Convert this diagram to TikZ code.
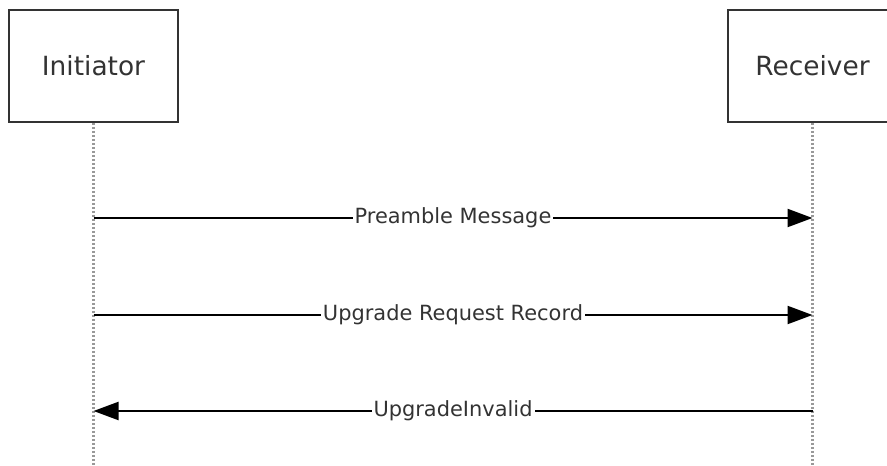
\documentclass[tikz,border=0pt]{standalone}
\usepackage{fontspec}
\setmainfont{DejaVu Sans}
\usetikzlibrary{arrows.meta}
\definecolor{inkgray}{HTML}{333333}
\begin{document}
\begin{tikzpicture}[
        x=1bp, y=-1bp,
        actor/.style={draw=inkgray, line width=1.8bp, minimum width=169bp, minimum height=112bp, inner sep=0pt, text=inkgray, font=\fontsize{26.5}{30}\selectfont},
        lifeline/.style={draw=gray!80, line width=2.6bp, dash pattern=on 2.5bp off 1.5bp},
        msg/.style={draw=black, line width=2.2bp, -{Triangle[length=25bp,width=18bp]}},
        lbl/.style={fill=white, inner xsep=2bp, inner ysep=1bp, text=inkgray, font=\fontsize{21}{24}\selectfont}
      ]
        \useasboundingbox (0,0) rectangle (887,466);
        \clip (0,0) rectangle (887,466);

        \node (init) at (93.5, 66)  [actor] {Initiator};
        \node (recv) at (812.5, 66) [actor] {Receiver};

        \coordinate (initEnd) at (93.5, 466);
        \coordinate (recvEnd) at (812.5, 466);
        \draw [lifeline] (init.south) -- (initEnd);
        \draw [lifeline] (recv.south) -- (recvEnd);

        \coordinate (i1) at (93.5, 218);
        \coordinate (r1) at (812.5, 218);
        \coordinate (i2) at (93.5, 315);
        \coordinate (r2) at (812.5, 315);
        \coordinate (i3) at (93.5, 411);
        \coordinate (r3) at (812.5, 411);

        \draw [msg] (i1) -- node [lbl] {Preamble Message} (r1);
        \draw [msg] (i2) -- node [lbl] {Upgrade Request Record} (r2);
        \draw [msg] (r3) -- node [lbl] {UpgradeInvalid} (i3);
      \end{tikzpicture}
\end{document}
